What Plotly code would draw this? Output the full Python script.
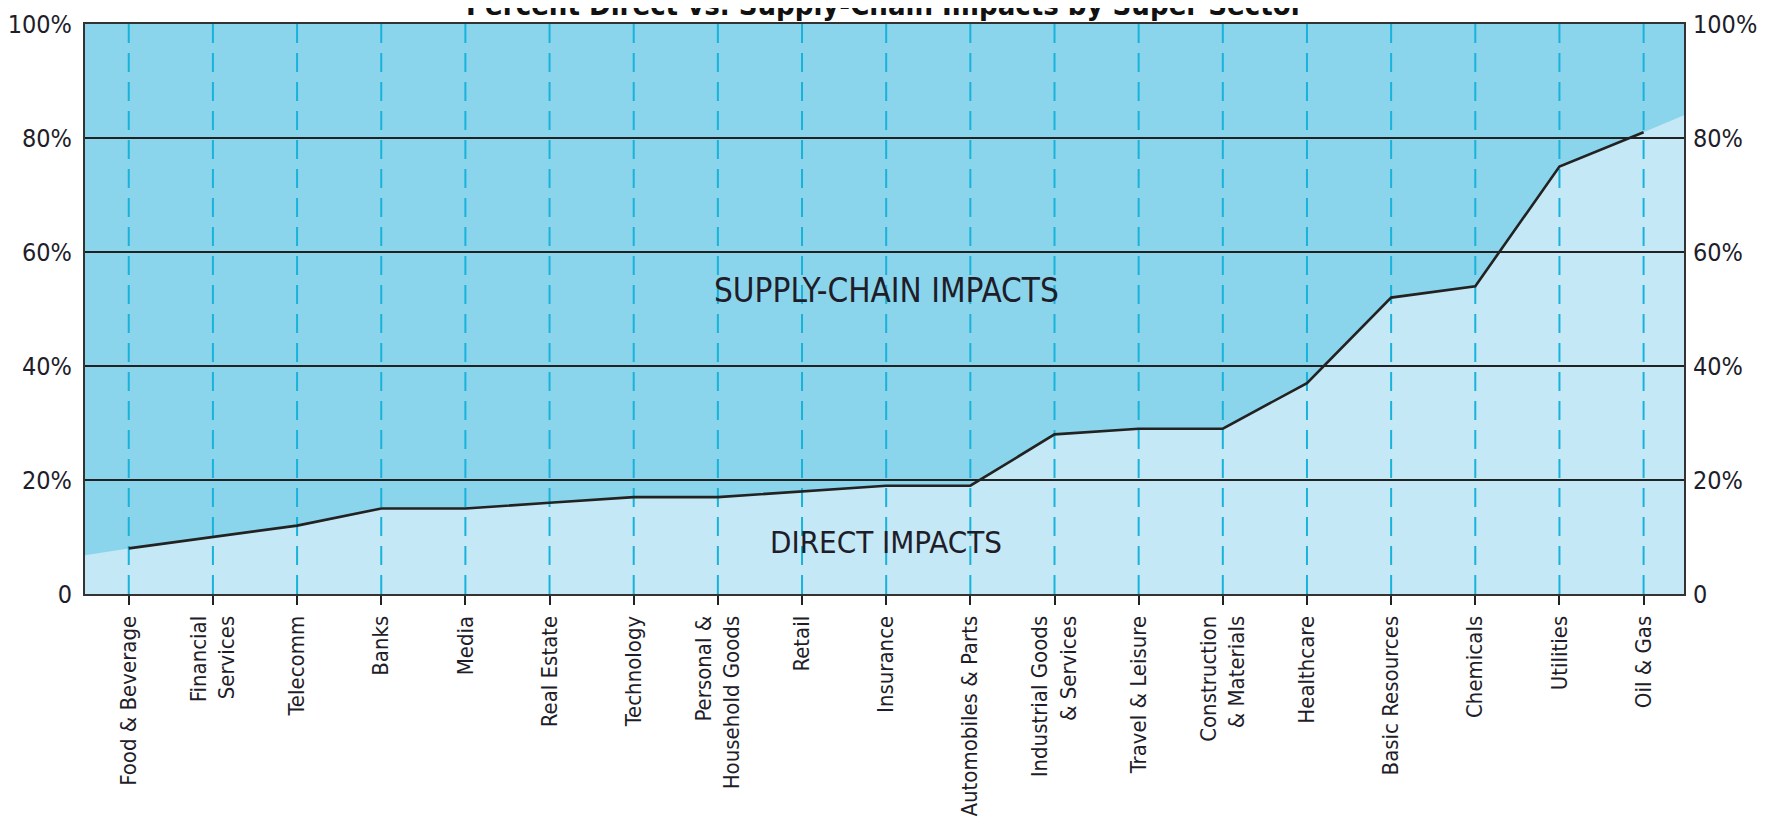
import plotly.graph_objects as go

# ======================================
# DATA
# ======================================

sectors = [
    "Food & Beverage",
    "Financial<br>Services",
    "Telecomm",
    "Banks",
    "Media",
    "Real Estate",
    "Technology",
    "Personal &<br>Household Goods",
    "Retail",
    "Insurance",
    "Automobiles & Parts",
    "Industrial Goods<br>& Services",
    "Travel & Leisure",
    "Construction<br>& Materials",
    "Healthcare",
    "Basic Resources",
    "Chemicals",
    "Utilities",
    "Oil & Gas",
]

# percent of impacts that are direct (rest is supply chain)
direct_pct = [8, 10, 12, 15, 15, 16, 17, 17, 18, 19, 19, 28, 29, 29, 37, 52, 54, 75, 81]

# shaded area carries on past the first / last sector to the frame
edge_left_pct = 6.8
edge_right_pct = 84

y_ticks = [0, 20, 40, 60, 80, 100]
y_tick_labels = ["0", "20%", "40%", "60%", "80%", "100%"]

# ======================================
# STYLE
# ======================================

FONT = "Liberation Sans Narrow, DejaVu Sans Condensed, Arial Narrow, sans-serif"
TEXT_COLOR = "#1e1d29"
SUPPLY_COLOR = "#8bd5ec"
DIRECT_COLOR = "#c5e8f6"
DASH_COLOR = "#19b2da"
FRAME_COLOR = "#333333"

x_min = -0.52
x_max = len(sectors) - 1 + 0.48

# ======================================
# CHART
# ======================================

x_idx = list(range(len(sectors)))

fig = go.Figure()

# direct impacts area (the supply-chain part is the plot background)
fig.add_trace(
    go.Scatter(
        x=[x_min] + x_idx + [x_max],
        y=[edge_left_pct] + direct_pct + [edge_right_pct],
        mode="lines",
        line=dict(width=0),
        fill="tozeroy",
        fillcolor=DIRECT_COLOR,
        hoverinfo="skip",
        showlegend=False,
    )
)

# dashed sector guides, drawn over the fills
guide_x = []
guide_y = []
for i in x_idx:
    guide_x += [i, i, None]
    guide_y += [0, 100, None]

fig.add_trace(
    go.Scatter(
        x=guide_x,
        y=guide_y,
        mode="lines",
        line=dict(color=DASH_COLOR, width=2, dash="19px,10px"),
        hoverinfo="skip",
        showlegend=False,
    )
)

# black horizontal grid
grid_x = []
grid_y = []
for v in y_ticks[1:-1]:
    grid_x += [x_min, x_max, None]
    grid_y += [v, v, None]

fig.add_trace(
    go.Scatter(
        x=grid_x,
        y=grid_y,
        mode="lines",
        line=dict(color="#222222", width=1.8),
        hoverinfo="skip",
        showlegend=False,
    )
)

# direct share line
fig.add_trace(
    go.Scatter(
        x=x_idx,
        y=direct_pct,
        mode="lines",
        line=dict(color="#222222", width=2.6),
        name="Direct",
        showlegend=False,
    )
)

# carrier for the right hand axis
fig.add_trace(
    go.Scatter(
        x=x_idx,
        y=direct_pct,
        yaxis="y2",
        mode="lines",
        line=dict(width=0),
        opacity=0,
        hoverinfo="skip",
        showlegend=False,
    )
)

fig.add_annotation(
    text="<b>Percent Direct vs. Supply-Chain Impacts by Super Sector</b>",
    xref="paper",
    yref="paper",
    x=0.5,
    y=1,
    yanchor="bottom",
    yshift=0,
    showarrow=False,
    font=dict(family=FONT, size=29, color="#111111"),
)

fig.add_annotation(
    text="SUPPLY-CHAIN IMPACTS",
    x=9,
    y=53.3,
    showarrow=False,
    font=dict(family=FONT, size=33, color=TEXT_COLOR),
)

fig.add_annotation(
    text="DIRECT IMPACTS",
    x=9,
    y=9.2,
    showarrow=False,
    font=dict(family=FONT, size=31, color=TEXT_COLOR),
)

# page body adds 8px on top/left, so the figure is trimmed to fit
fig.update_layout(
    width=1759,
    height=809,
    margin=dict(l=77, r=83, t=16, b=223),
    paper_bgcolor="white",
    plot_bgcolor=SUPPLY_COLOR,
    font=dict(family=FONT, color=TEXT_COLOR),
    xaxis=dict(
        range=[x_min, x_max],
        tickmode="array",
        tickvals=x_idx,
        ticktext=sectors,
        tickangle=-90,
        tickfont=dict(family=FONT, size=22, color=TEXT_COLOR),
        ticks="outside",
        ticklen=9,
        tickwidth=2,
        tickcolor="#222222",
        ticklabelstandoff=2,
        showgrid=False,
        zeroline=False,
        showline=True,
        mirror=True,
        linecolor=FRAME_COLOR,
        linewidth=2,
        automargin=False,
    ),
    yaxis=dict(
        range=[0, 100],
        tickmode="array",
        tickvals=y_ticks,
        ticktext=y_tick_labels,
        tickfont=dict(family=FONT, size=25, color=TEXT_COLOR),
        ticks="",
        ticklabelstandoff=6,
        showgrid=False,
        zeroline=False,
        showline=True,
        mirror=True,
        linecolor=FRAME_COLOR,
        linewidth=2,
        automargin=False,
    ),
    yaxis2=dict(
        range=[0, 100],
        overlaying="y",
        side="right",
        tickmode="array",
        tickvals=y_ticks,
        ticktext=y_tick_labels,
        tickfont=dict(family=FONT, size=25, color=TEXT_COLOR),
        ticks="",
        ticklabelstandoff=8,
        showgrid=False,
        zeroline=False,
        showline=False,
        automargin=False,
    ),
)

fig.write_html("out.html")
